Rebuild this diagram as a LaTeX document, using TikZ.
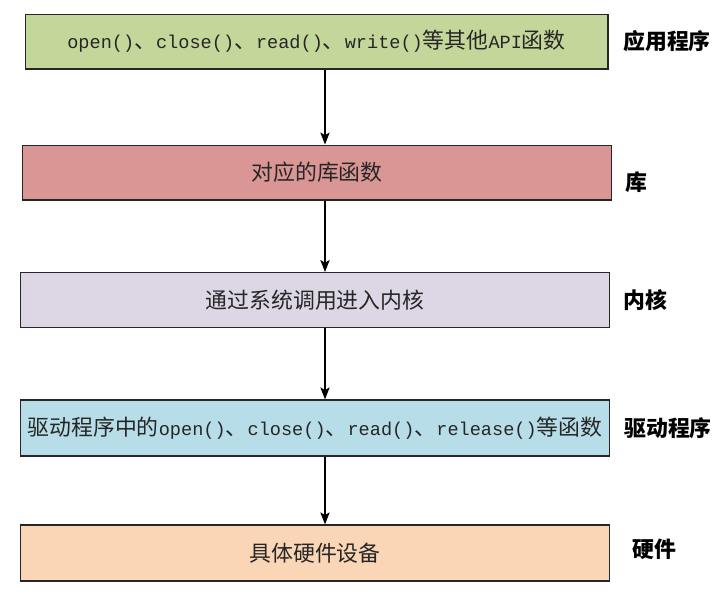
\documentclass[tikz,border=0pt]{standalone}
\usepackage{fontspec}
\setmainfont{Liberation Serif}
\newfontfamily\cjk{Noto Sans CJK SC}
\newfontfamily\apimono[Scale=0.85]{Liberation Mono}
\newcommand\api[1]{{\apimono #1}}
\usetikzlibrary{arrows.meta,positioning}
\definecolor{appgreen}{RGB}{196,215,155}
\definecolor{libred}{RGB}{218,150,148}
\definecolor{kernpurple}{RGB}{221,214,228}
\definecolor{drvblue}{RGB}{183,222,232}
\definecolor{hwpeach}{RGB}{250,213,182}

\begin{document}
\begin{tikzpicture}[
  x=0.75pt, y=-0.75pt,
  every node/.style={font=\cjk\fontsize{16.4}{18}\selectfont},
  layer/.style={draw=black!85, line width=1pt, minimum height=41pt,
                text=black!85, inner sep=0pt},
  tag/.style={font=\cjk\bfseries\fontsize{16.4}{18}\selectfont, text=black},
  arrow/.style={-{Stealth[length=9pt,width=7pt,inset=2pt]}, line width=0.8pt},
]
\useasboundingbox (0,0) rectangle (720,596);

%% -- layers ----------------------------------------------------------------
\node[layer, fill=appgreen, minimum width=437pt] (app) at (316.5,41.5)
  {\api{open()}、\api{close()}、\api{read()}、\api{write()}等其他\api{API}函数};
\node[layer, fill=libred, minimum width=442pt] (lib) at (317,172.5)
  {对应的库函数};
\node[layer, fill=kernpurple, minimum width=442pt] (kern) at (315,300)
  {通过系统调用进入内核};
\node[layer, fill=drvblue, minimum width=442pt, minimum height=42pt] (drv) at (315,428)
  {驱动程序中的\api{open()}、\api{close()}、\api{read()}、\api{release()}等函数};
\node[layer, fill=hwpeach, minimum width=442pt, minimum height=42pt] (hw) at (315,553)
  {具体硬件设备};

%% -- layer names -----------------------------------------------------------
\node[tag] (appname)  at (667,41)  {应用程序};
\node[tag] (libname)  at (636,182) {库};
\node[tag] (kernname) at (645,300) {内核};
\node[tag] (drvname)  at (668,428) {驱动程序};
\node[tag] (hwname)   at (654,549) {硬件};

%% -- calls downwards -------------------------------------------------------
\coordinate (axis) at (325,0);
\draw[arrow] (app.south -| axis)  -- (lib.north -| axis);
\draw[arrow] (lib.south -| axis)  -- (kern.north -| axis);
\draw[arrow] (kern.south -| axis) -- (drv.north -| axis);
\draw[arrow] (drv.south -| axis)  -- (hw.north -| axis);

\end{tikzpicture}
\end{document}
